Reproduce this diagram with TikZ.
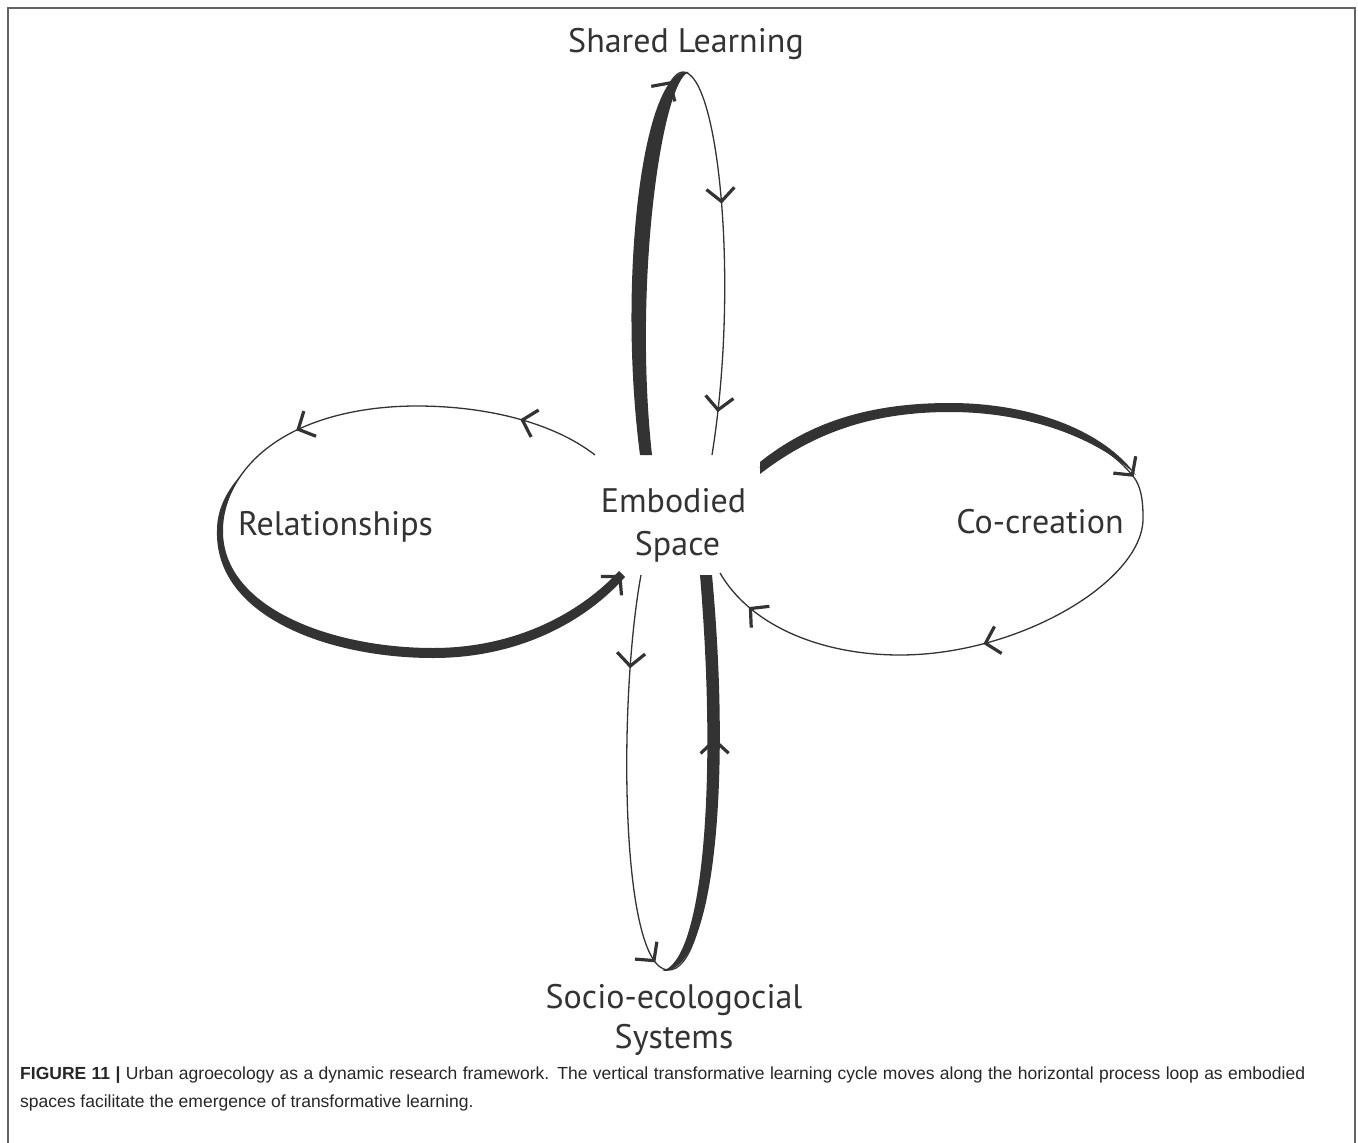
\documentclass[tikz,border=0pt]{standalone}
\usepackage{fontspec}
\setmainfont{Liberation Sans}
\newfontfamily\labelfont{PT Sans}
\usetikzlibrary{arrows.meta,decorations.markings}
\definecolor{ink}{RGB}{51,51,51}
\definecolor{framec}{RGB}{100,100,100}
\tikzset{Vt/.tip={Straight Barb[length=13pt,width=28pt,line width'=3.2pt]}}
\begin{document}
\begin{tikzpicture}[x=1pt,y=-1pt,
  lbl/.style={font=\labelfont\fontsize{34}{40}\selectfont, text=ink, inner sep=0pt, anchor=base},
  captext/.style={font=\fontsize{17.5}{20}\selectfont, text=black!85, inner sep=0pt, anchor=base west},
  thinline/.style={draw=ink, color=ink, line width=1.3pt},
  thickfill/.style={fill=ink, draw=none}]
\useasboundingbox (0,0) rectangle (1358,1143);

% frame
\draw[framec, line width=2pt] (8,1143) -- (8,8) -- (1355,8) -- (1355,1143);

% ---------- thick parts ----------
% top loop (left side)
\fill[thickfill] (640,455) .. controls (617,278) and (643,64) .. (689,72)
  .. controls (662,80) and (633,282) .. (652,455) -- cycle;
% bottom loop (right side)
\fill[thickfill] (662,971) .. controls (713,975) and (732,790) .. (712,575)
  -- (700,575) .. controls (718,790) and (702,962) .. (662,971) -- cycle;
% left loop (bottom)
\fill[thickfill] (240,476) .. controls (226,492) and (217,510) .. (217,530)
  .. controls (214,616) and (328,658) .. (433,658)
  .. controls (522,658) and (588,619) .. (625,577)
  -- (619,571) .. controls (582,611) and (518,648) .. (433,648)
  .. controls (332,648) and (222,608) .. (223,530)
  .. controls (223,512) and (230,492) .. (240,476) -- cycle;
% right loop (top)
\fill[thickfill] (760,462) .. controls (810,422) and (870,403) .. (950,403)
  .. controls (1032,403) and (1104,431) .. (1136,475)
  .. controls (1098,439) and (1030,412) .. (950,412)
  .. controls (870,412) and (812,434) .. (760,474) -- cycle;

% ---------- thin loops with chevrons ----------
% top loop
\draw[thinline, decoration={markings,
    mark=at position 0.48 with {\arrow{Vt}},
    mark=at position 0.68 with {\arrow{Vt}},
    mark=at position 0.945 with {\arrow{Vt}}}, postaction={decorate}]
  (646,455) .. controls (625,280) and (650,72) .. (683,72)
  .. controls (718,72) and (740,280) .. (712,455);
% bottom loop
\draw[thinline, decoration={markings,
    mark=at position 0.115 with {\arrow{Vt}},
    mark=at position 0.48 with {\arrow{Vt}},
    mark=at position 0.80 with {\arrow{Vt}}}, postaction={decorate}]
  (641,575) .. controls (618,700) and (620,968) .. (668,970)
  .. controls (710,972) and (726,790) .. (706,575);
% left loop
\draw[thinline, decoration={markings,
    mark=at position 0.09 with {\arrow{Vt}},
    mark=at position 0.337 with {\arrow{Vt}},
    mark=at position 0.999 with {\arrow{Vt}}}, postaction={decorate}]
  (595,455) .. controls (550,420) and (480,406) .. (417,406)
  .. controls (325,406) and (232,440) .. (220,530)
  .. controls (217,612) and (330,653) .. (433,653)
  .. controls (520,653) and (585,615) .. (622,574);
% right loop
\draw[thinline, decoration={markings,
    mark=at position 0.425 with {\arrow{Vt}},
    mark=at position 0.695 with {\arrow{Vt}},
    mark=at position 0.953 with {\arrow{Vt}}}, postaction={decorate}]
  (760,468) .. controls (810,428) and (870,408) .. (950,408)
  .. controls (1030,408) and (1100,435) .. (1133,476)
  .. controls (1141,486) and (1143,500) .. (1143,517)
  .. controls (1145,580) and (1020,655) .. (900,655)
  .. controls (820,655) and (750,625) .. (720,573);

% ---------- labels ----------
\node[lbl] (shared) at (686,52) {Shared Learning};
\node[lbl] (emb1) at (673.5,512) {Embodied};
\node[lbl] (emb2) at (677.5,555) {Space};
\node[lbl] (rel) at (335.5,535) {Relationships};
\node[lbl] (cocr) at (1040,533) {Co-creation};
\node[lbl] (socio1) at (674,1008) {Socio-ecologocial};
\node[lbl] (socio2) at (674,1048) {Systems};

% ---------- caption ----------
\node[captext] (cap1) at (20,1079) {\makebox[1285pt][s]{\textbf{FIGURE 11 |} Urban agroecology as a dynamic research framework. The vertical transformative learning cycle moves along the horizontal process loop as embodied}};
\node[captext] (cap2) at (20,1107) {spaces facilitate the emergence of transformative learning.};
\end{tikzpicture}
\end{document}
